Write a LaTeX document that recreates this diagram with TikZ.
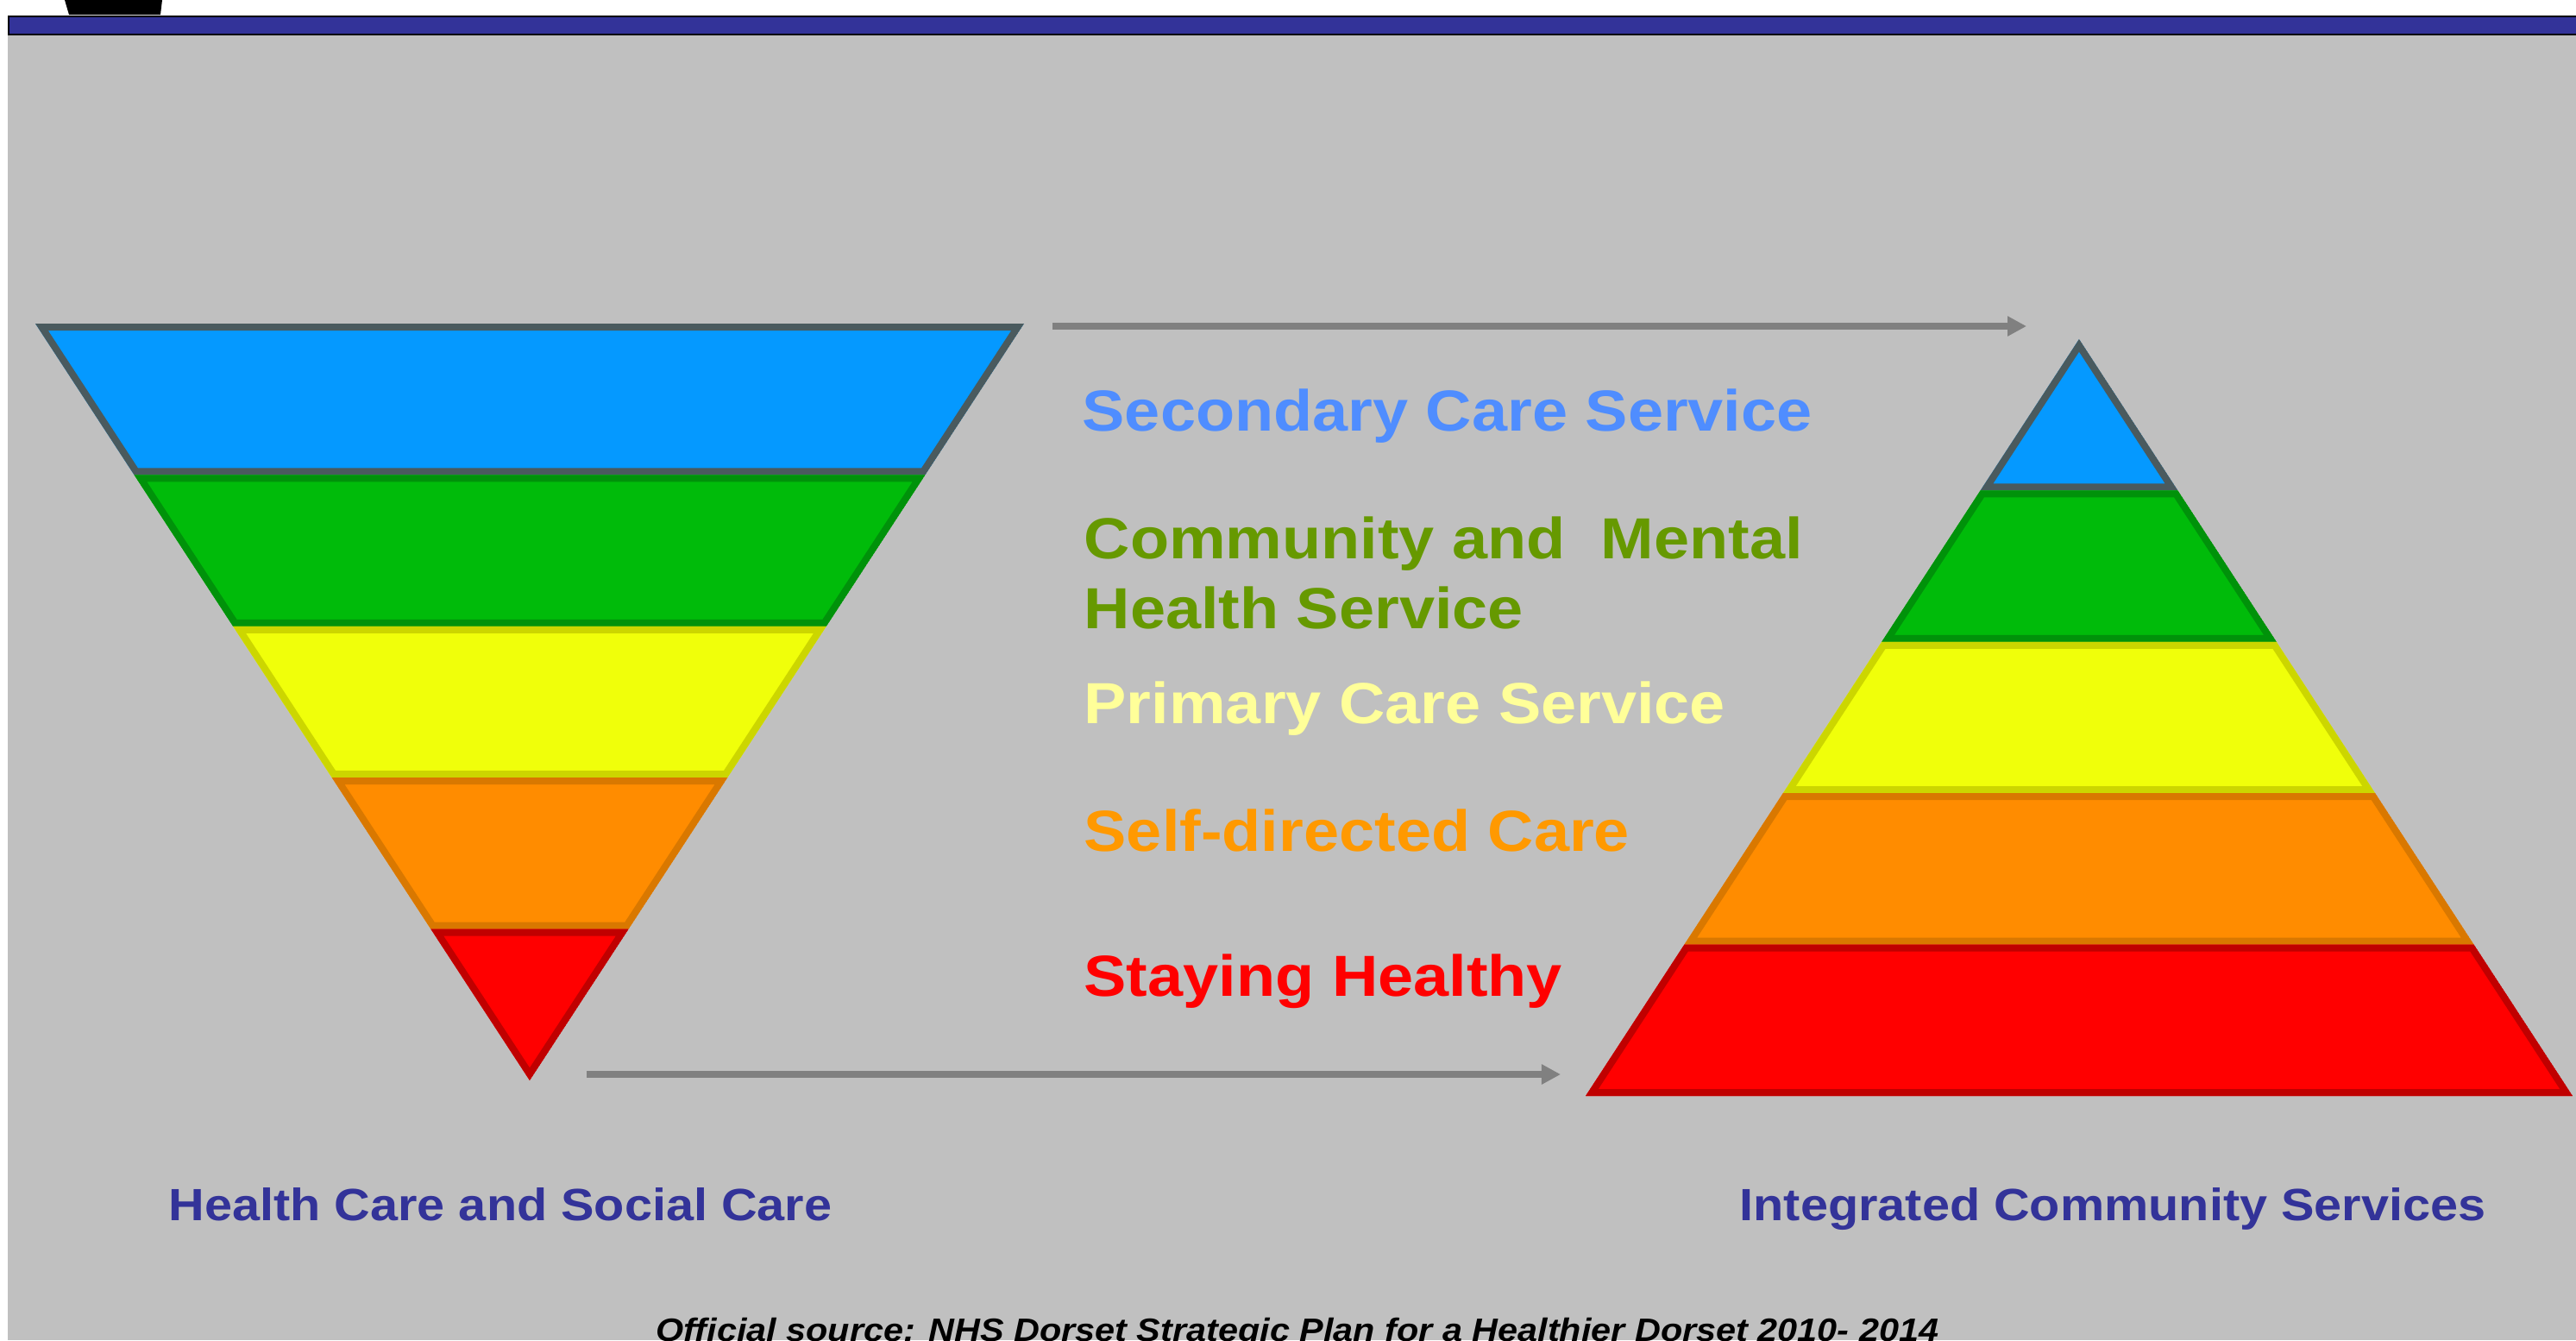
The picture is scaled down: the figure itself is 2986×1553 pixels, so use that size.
\documentclass[tikz,border=0pt]{standalone}
\usepackage{fontspec}
\usepackage{xcolor}
\usepackage{tikz}
\newfontfamily\slidefont{Liberation Sans}[FakeStretch=1.1]
\definecolor{slidegray}{HTML}{C0C0C0}
\definecolor{barblue}{HTML}{333399}
\definecolor{arrowgray}{HTML}{808080}
\definecolor{secfill}{HTML}{0599FF}
\definecolor{secedge}{HTML}{4A5A5E}
\definecolor{comfill}{HTML}{00BB0A}
\definecolor{comedge}{HTML}{00920A}
\definecolor{prifill}{HTML}{F0FF0A}
\definecolor{priedge}{HTML}{CCD600}
\definecolor{selffill}{HTML}{FF8C00}
\definecolor{selfedge}{HTML}{D97800}
\definecolor{stayfill}{HTML}{FF0000}
\definecolor{stayedge}{HTML}{C00000}
\definecolor{sectext}{HTML}{4F8DFF}
\definecolor{comtext}{HTML}{669900}
\definecolor{pritext}{HTML}{FFFF99}
\definecolor{selftext}{HTML}{FF9900}
\definecolor{staytext}{HTML}{FF0000}
\usetikzlibrary{arrows.meta}

\begin{document}
\begin{tikzpicture}[
  x=0.01cm,y=-0.01cm,
  layer/.style={line width=0.16cm},
  arr/.style={-{Triangle[length=0.22cm,width=0.22cm]},color=arrowgray,line width=0.08cm},
  svc/.style={anchor=base west,inner sep=0pt,align=left,
              font=\slidefont\bfseries\fontsize{19.1pt}{22.8pt}\selectfont},
  captext/.style={anchor=base west,inner sep=0pt,text=barblue,
              font=\slidefont\bfseries\fontsize{14.9pt}{17pt}\selectfont}]
  \useasboundingbox (0,0) rectangle (2986,1553);
  % slide background and title bar
  \fill[white] (0,0) rectangle (2986,1553);
  \fill[slidegray] (9,41) rectangle (2986,1553);
  \fill[black] (75,0) -- (188,0) -- (186,17) -- (80,17) -- cycle;
  \draw[black,line width=0.02cm,fill=barblue] (10,19) rectangle (2990,40);
  % inverted pyramid (left) and pyramid (right)
  \foreach \i/\fc/\dc in {0/secfill/secedge,1/comfill/comedge,2/prifill/priedge,
                          3/selffill/selfedge,4/stayfill/stayedge}{
    \pgfmathsetmacro\ya{375+175.4*\i}
    \pgfmathsetmacro\yb{\ya+175.4}
    \pgfmathsetmacro\wa{573*(5-\i)/5}
    \pgfmathsetmacro\wb{573*(4-\i)/5}
    \begin{scope}
      \clip (614-\wa,\ya) -- (614+\wa,\ya) -- (614+\wb,\yb) -- (614-\wb,\yb) -- cycle;
      \draw[layer,fill=\fc,draw=\dc]
        (614-\wa,\ya) -- (614+\wa,\ya) -- (614+\wb,\yb) -- (614-\wb,\yb) -- cycle;
    \end{scope}
    \pgfmathsetmacro\yc{393+175.4*\i}
    \pgfmathsetmacro\yd{\yc+175.4}
    \pgfmathsetmacro\wc{572*\i/5}
    \pgfmathsetmacro\wd{572*(\i+1)/5}
    \begin{scope}
      \clip (2410-\wc,\yc) -- (2410+\wc,\yc) -- (2410+\wd,\yd) -- (2410-\wd,\yd) -- cycle;
      \draw[layer,fill=\fc,draw=\dc]
        (2410-\wc,\yc) -- (2410+\wc,\yc) -- (2410+\wd,\yd) -- (2410-\wd,\yd) -- cycle;
    \end{scope}
  }
  % arrows
  \coordinate (topstart) at (1220,378);
  \coordinate (topend) at (2349,378);
  \coordinate (botstart) at (680,1245);
  \coordinate (botend) at (1809,1245);
  \draw[arr] (topstart) -- (topend);
  \draw[arr] (botstart) -- (botend);
  % service labels
  \node[svc,text=sectext]  (secondary) at (1254,499) {Secondary Care Service};
  \node[svc,text=comtext]  (community) at (1256,728) {Community and~ Mental\\Health Service};
  \node[svc,text=pritext]  (primary)   at (1256,838) {Primary Care Service};
  \node[svc,text=selftext] (selfcare)  at (1256,986) {Self-directed Care};
  \node[svc,text=staytext] (staying)   at (1256,1154) {Staying Healthy};
  % captions
  \node[captext] (healthcare) at (195,1414) {Health Care and Social Care};
  \node[captext] (integrated) at (2016,1414) {Integrated Community Services};
  \node[anchor=base,inner sep=0pt,
        font=\slidefont\bfseries\itshape\fontsize{10.7pt}{12pt}\selectfont]
    (source) at (1504,1554) {Official source: NHS Dorset Strategic Plan for a Healthier Dorset 2010- 2014};
\end{tikzpicture}
\end{document}
